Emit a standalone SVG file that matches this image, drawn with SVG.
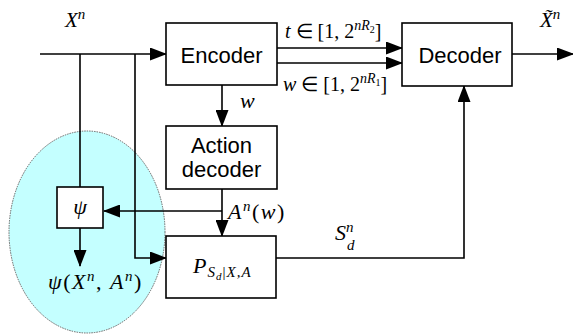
<svg xmlns="http://www.w3.org/2000/svg" width="573" height="335" viewBox="0 0 573 335">
<style>
.box{fill:#fff;stroke:#000;stroke-width:1.6}
.lbl{font-family:"Liberation Sans",Arial,sans-serif;font-size:22px;fill:#000;text-anchor:middle}
.m{font-family:"Liberation Serif","Times New Roman",serif;fill:#000}
.i{font-style:italic}
.con path{fill:none;stroke:#000;stroke-width:1.6}
</style>
<defs>
<marker id="ah" markerUnits="userSpaceOnUse" markerWidth="17" markerHeight="13" refX="16" refY="6.5" orient="auto">
<path d="M0,0 L17,6.5 L0,13 z" fill="#000"/>
</marker>
</defs>
<rect width="573" height="335" fill="#fff"/>
<ellipse id="region" cx="87" cy="232" rx="78" ry="101" fill="#c4ffff" stroke="#666" stroke-width="1" stroke-dasharray="1.5,1"/>
<g class="con">
<path d="M40,54 H166" marker-end="url(#ah)"/>
<path d="M80,54 V187"/>
<path d="M135,54 V258 H166" marker-end="url(#ah)"/>
<path d="M222,85 V126" marker-end="url(#ah)"/>
<path d="M277,48 H402" marker-end="url(#ah)"/>
<path d="M277,63 H402" marker-end="url(#ah)"/>
<path d="M512,54 H573" marker-end="url(#ah)"/>
<path d="M222,189 V236" marker-end="url(#ah)"/>
<path d="M222,211 H104" marker-end="url(#ah)"/>
<path d="M80,228 V266" marker-end="url(#ah)"/>
<path d="M276,258 H464 V86" marker-end="url(#ah)"/>
</g>
<g id="encoder">
<rect class="box" x="166" y="23" width="111" height="62"/>
<text class="lbl" x="221.5" y="63">Encoder</text>
</g>
<g id="decoder">
<rect class="box" x="402" y="23" width="110" height="63"/>
<text class="lbl" x="460" y="63">Decoder</text>
</g>
<g id="action-decoder">
<rect class="box" x="166" y="126" width="111" height="63"/>
<text class="lbl" x="221.5" y="153">Action</text>
<text class="lbl" x="221.5" y="177">decoder</text>
</g>
<g id="psi">
<rect class="box" x="57" y="187" width="46" height="41"/>
<text class="m i" x="80" y="214" text-anchor="middle" font-size="22">ψ</text>
</g>
<g id="channel">
<rect class="box" x="166" y="236" width="110" height="62"/>
<text class="m" x="193" y="273" font-size="22" letter-spacing="1"><tspan class="i">P</tspan><tspan class="i" font-size="15" dy="4">S</tspan><tspan class="i" font-size="11" dy="3">d</tspan><tspan font-size="15" dy="-3">|</tspan><tspan class="i" font-size="15">X,A</tspan></text>
</g>
<g id="labels">
<text class="m" x="65" y="27" font-size="21"><tspan class="i">X</tspan><tspan class="i" font-size="15" dy="-8">n</tspan></text>
<text class="m" x="540" y="27" font-size="21"><tspan class="i">X̃</tspan><tspan class="i" font-size="15" dy="-8">n</tspan></text>
<text class="m" x="285" y="38" font-size="20"><tspan class="i">t</tspan> ∈ [1, 2<tspan class="i" font-size="14" dy="-8">nR</tspan><tspan font-size="10" dy="3">2</tspan><tspan dy="5">]</tspan></text>
<text class="m" x="283" y="91" font-size="20"><tspan class="i">w</tspan> ∈ [1, 2<tspan class="i" font-size="14" dy="-8">nR</tspan><tspan font-size="10" dy="3">1</tspan><tspan dy="5">]</tspan></text>
<text class="m i" x="240" y="108" font-size="22">w</text>
<text class="m" x="228" y="219" font-size="22" letter-spacing="1.5"><tspan class="i">A</tspan><tspan class="i" font-size="15" dy="-8">n</tspan><tspan dy="8">(</tspan><tspan class="i">w</tspan>)</text>
<text class="m" x="335" y="240" font-size="22"><tspan class="i">S</tspan><tspan class="i" font-size="15" dy="-8">n</tspan><tspan class="i" font-size="15" x="347" dy="18">d</tspan></text>
<text class="m" x="48" y="289" font-size="22" letter-spacing="1.5"><tspan class="i">ψ</tspan>(<tspan class="i">X</tspan><tspan class="i" font-size="15" dy="-8">n</tspan><tspan dy="8">, </tspan><tspan class="i">A</tspan><tspan class="i" font-size="15" dy="-8">n</tspan><tspan dy="8">)</tspan></text>
</g>
</svg>
